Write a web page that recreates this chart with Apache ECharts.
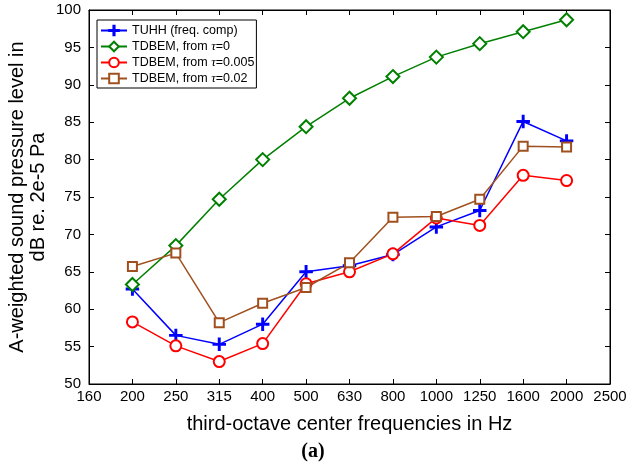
<!DOCTYPE html>
<html>
<head>
<meta charset="utf-8">
<script src="https://cdn.jsdelivr.net/npm/echarts@6/dist/echarts.min.js"></script>
<style>
  html, body { margin: 0; padding: 0; background: #fff; }
  #main { width: 626px; height: 469px; }
</style>
</head>
<body>
<div id="main"></div>
<script>
// third-octave bands on the axis (160 and 2500 only carry ticks)
var freqs = ['160', '200', '250', '315', '400', '500', '630', '800', '1000', '1250', '1600', '2000', '2500'];

// values, dB(A); null at the empty end bands
var tuhh    = [null, 62.7, 56.5, 55.3, 58.0, 65.0, 65.8, 67.3, 71.0, 73.2, 85.1, 82.5, null];
var tau0    = [null, 63.3, 68.5, 74.7, 80.0, 84.4, 88.2, 91.1, 93.7, 95.5, 97.1, 98.7, null];
var tau005  = [null, 58.3, 55.1, 53.0, 55.4, 63.4, 65.0, 67.4, 72.2, 71.2, 77.9, 77.2, null];
var tau02   = [null, 65.7, 67.5, 58.2, 60.8, 62.9, 66.2, 72.3, 72.4, 74.7, 81.8, 81.7, null];

var myChart = echarts.init(document.getElementById('main'));
var font = 'Liberation Sans, Arial, sans-serif';
var narrow = 'Liberation Sans Narrow, Liberation Sans, Arial, sans-serif';
var plusPath = 'path://M4.4,0H5.6V4.4H10V5.6H5.6V10H4.4V5.6H0V4.4H4.4Z';

function mkSeries(name, data, color, symbol, size) {
    return {
        name: name,
        type: 'line',
        data: data,
        symbol: symbol,
        symbolSize: size,
        connectNulls: false,
        lineStyle: { color: color, width: 1.5 },
        itemStyle: { color: color, borderColor: color, borderWidth: 1.5 },
        emphasis: { disabled: true },
        animation: false
    };
}

var axisLine = { show: true, lineStyle: { color: '#000', width: 1 } };

var option = {
    backgroundColor: '#fff',
    textStyle: { fontFamily: font },
    title: {
        text: '(a)',
        left: 'center',
        top: 437,
        textStyle: { fontFamily: 'Liberation Serif, Times New Roman, serif', fontWeight: 'bold', fontSize: 20, color: '#000' }
    },
    grid: {
        left: 89, right: 16, top: 10, bottom: 85,
        outerBoundsMode: 'none',
        show: true, borderColor: '#000', borderWidth: 1, backgroundColor: 'transparent'
    },
    legend: {
        orient: 'vertical',
        left: 97, top: 20,
        borderColor: '#000', borderWidth: 1,
        backgroundColor: '#fff',
        padding: [4, 2, 3, 3],
        itemGap: 3,
        itemWidth: 26, itemHeight: 12,
        textStyle: {
            fontFamily: font, fontSize: 12.5, color: '#000',
            rich: { i: { fontFamily: 'Liberation Serif, serif', fontStyle: 'italic', fontSize: 13, color: '#000' } }
        },
        formatter: function (name) {
            return name.replace('\u03C4', '{i|\u03C4}');
        },
        data: ['TUHH (freq. comp)', 'TDBEM, from \u03C4=0', 'TDBEM, from \u03C4=0.005', 'TDBEM, from \u03C4=0.02']
    },
    xAxis: [{
        type: 'category',
        data: freqs,
        boundaryGap: false,
        axisLine: axisLine,
        axisTick: { inside: true, length: 5, alignWithLabel: true, lineStyle: { color: '#000' } },
        axisLabel: { color: '#000', fontSize: 15, margin: 5, interval: 0, fontFamily: narrow },
        splitLine: { show: false },
        name: 'third-octave center frequencies in Hz',
        nameLocation: 'middle',
        nameGap: 30,
        nameMoveOverlap: false,
        nameTextStyle: { color: '#000', fontSize: 20, fontFamily: font }
    }, {
        type: 'category',
        data: freqs,
        position: 'top',
        boundaryGap: false,
        axisLine: axisLine,
        axisTick: { inside: true, length: 5, lineStyle: { color: '#000' } },
        axisLabel: { show: false },
        splitLine: { show: false }
    }],
    yAxis: [{
        type: 'value',
        min: 50, max: 100, interval: 5,
        axisLine: axisLine,
        axisTick: { show: true, inside: true, length: 5, lineStyle: { color: '#000' } },
        axisLabel: { color: '#000', fontSize: 15, margin: 8, fontFamily: font },
        splitLine: { show: false },
        name: 'A-weighted sound pressure level in\ndB re. 2e-5 Pa',
        nameLocation: 'middle',
        nameRotate: 90,
        nameGap: 40,
        nameMoveOverlap: false,
        nameTextStyle: { color: '#000', fontSize: 20, lineHeight: 21, fontFamily: font }
    }, {
        type: 'value',
        position: 'right',
        min: 50, max: 100, interval: 5,
        axisLine: axisLine,
        axisTick: { show: true, inside: true, length: 5, lineStyle: { color: '#000' } },
        axisLabel: { show: false },
        splitLine: { show: false }
    }],
    series: [
        mkSeries('TUHH (freq. comp)', tuhh, '#0000ff', plusPath, 12),
        mkSeries('TDBEM, from \u03C4=0', tau0, '#008000', 'emptyDiamond', 13),
        mkSeries('TDBEM, from \u03C4=0.005', tau005, '#ff0000', 'emptyCircle', 11),
        mkSeries('TDBEM, from \u03C4=0.02', tau02, '#a0501e', 'emptyRect', 9)
    ]
};

myChart.setOption(option);
</script>
</body>
</html>
